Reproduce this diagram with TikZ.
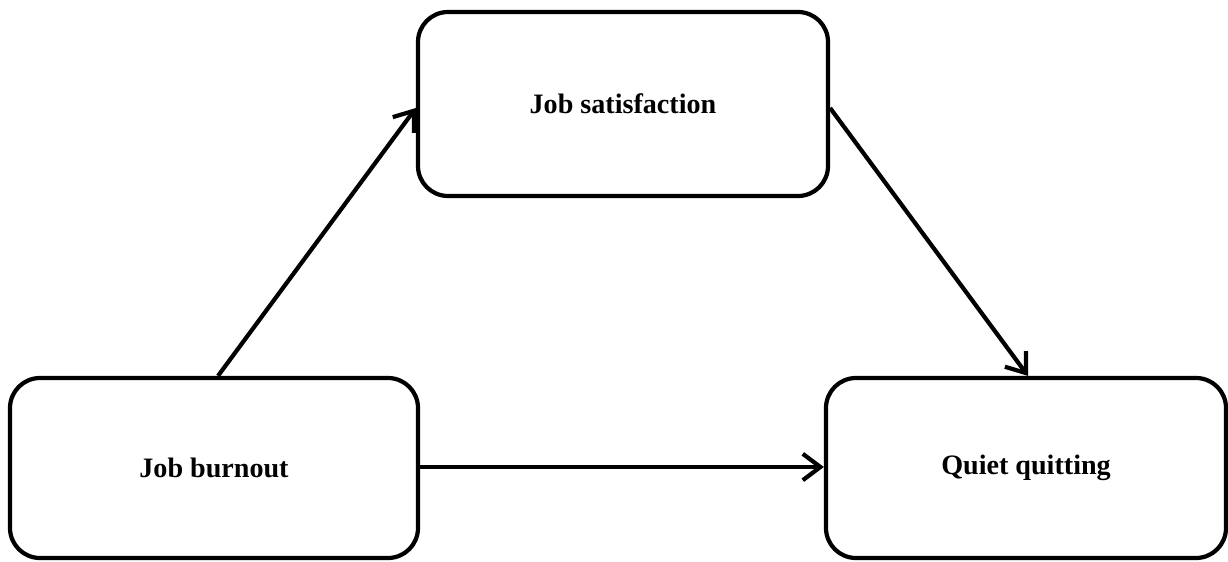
\documentclass[tikz,border=0pt]{standalone}
\usepackage{fontspec}
\setmainfont{Liberation Serif}
\usetikzlibrary{arrows.meta}

\begin{document}
\begin{tikzpicture}[every node/.style={font=\fontsize{16}{19}\selectfont\bfseries},
  varbox/.style={draw, line width=2.4pt, rounded corners=0.6cm, align=center},
  path/.style={-{Straight Barb[length=10pt,width=15pt,line width=2.4pt]}, line width=2.4pt}]

  % Fix the size of the picture
  \useasboundingbox (0,0) rectangle (24.56,11.22);

  % Define the three variables as boxes
  \node[varbox, minimum width=8.2cm, minimum height=3.68cm] (S) at (12.46,9.14) {Job satisfaction};
  \node[varbox, minimum width=8.16cm, minimum height=3.6cm] (B) at (4.28,1.86) {Job burnout};
  \node[varbox, minimum width=8.0cm, minimum height=3.6cm] (Q) at (20.52,1.86) {Quiet quitting};

  % Draw the paths between them
  \draw[path] ([xshift=0.08cm]B.north) -- ([yshift=-0.08cm]S.west);
  \draw[path] ([yshift=-0.08cm]S.east) -- ([xshift=0.04cm]Q.north);
  \draw[path] ([yshift=0.02cm]B.east) -- ([yshift=0.02cm]Q.west);

\end{tikzpicture}
\end{document}
